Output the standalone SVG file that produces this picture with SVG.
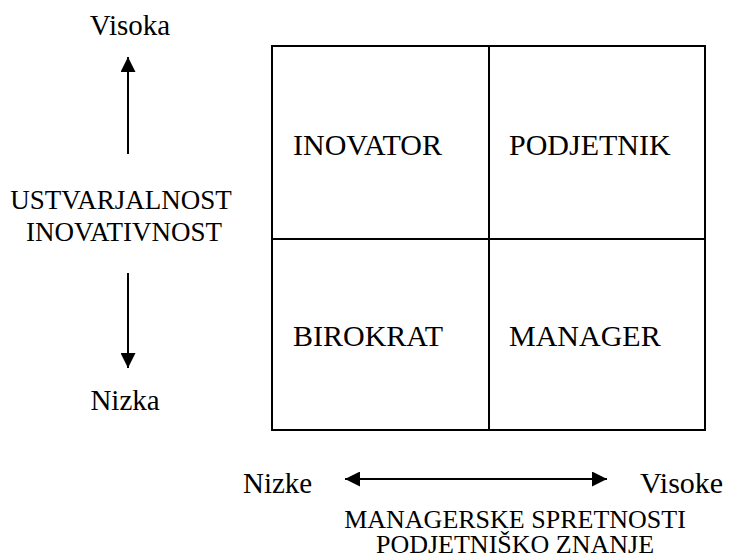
<svg xmlns="http://www.w3.org/2000/svg" width="729" height="557" viewBox="0 0 729 557">
<style>
text{font-family:"Liberation Serif","Times New Roman",serif;font-size:27px;fill:#000}
.m{text-anchor:middle}
.q{font-size:30px}
.e{font-size:29px}
.c{font-size:26px}
.ln{stroke:#000;stroke-width:2;fill:none}
.cell{stroke:#000;stroke-width:2;fill:#fff}
</style>
<defs>
<marker id="ah" viewBox="0 0 10 10" refX="10" refY="5" markerWidth="15" markerHeight="15" markerUnits="userSpaceOnUse" orient="auto-start-reverse">
<path d="M0,0 L10,5 L0,10 z" fill="#000"/>
</marker>
</defs>
<g id="grid">
<g id="inovator"><rect class="cell" x="272" y="46" width="217" height="193"/><text class="q" x="293" y="155">INOVATOR</text></g>
<g id="podjetnik"><rect class="cell" x="489" y="46" width="216" height="193"/><text class="q" x="509" y="155">PODJETNIK</text></g>
<g id="birokrat"><rect class="cell" x="272" y="239" width="217" height="191"/><text class="q" x="293" y="346">BIROKRAT</text></g>
<g id="manager"><rect class="cell" x="489" y="239" width="216" height="191"/><text class="q" x="509" y="346">MANAGER</text></g>
</g>
<g id="labels">
<text class="m e" x="130" y="35">Visoka</text>
<text class="m" x="121" y="209">USTVARJALNOST</text>
<text class="m" x="124" y="241">INOVATIVNOST</text>
<text class="m e" x="125" y="410">Nizka</text>
<text class="e" x="243" y="493">Nizke</text>
<text class="q" x="640" y="493">Visoke</text>
<text class="m c" x="515" y="528">MANAGERSKE SPRETNOSTI</text>
<text class="m c" x="515" y="553">PODJETNIŠKO ZNANJE</text>
</g>
<g id="connectors">
<line class="ln" x1="128" y1="154" x2="128" y2="57" marker-end="url(#ah)"/>
<line class="ln" x1="128" y1="273" x2="128" y2="368" marker-end="url(#ah)"/>
<line class="ln" x1="345" y1="479" x2="607" y2="479" marker-start="url(#ah)" marker-end="url(#ah)"/>
</g>
</svg>
